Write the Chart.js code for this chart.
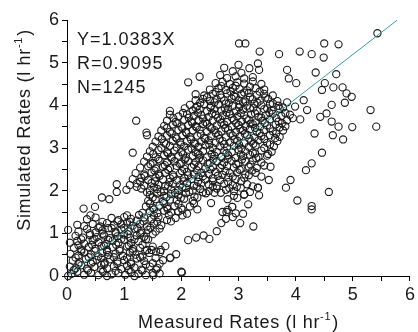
<!DOCTYPE html>
<html><head><meta charset="utf-8">
<script src="https://cdn.jsdelivr.net/npm/chart.js@4/dist/chart.umd.min.js"></script>
<style>html,body{margin:0;padding:0;background:#fff}#wrap{width:418px;height:332px}</style>
</head><body><div id="wrap"><canvas id="c" width="418" height="332"></canvas></div>
<script>
const slope = 1.0383, rValue = '0.9095', nValue = 1245;
const xTicks = [0,1,2,3,4,5,6];
const yTicks = [0,1,2,3,4,5,6];
const xTitle = 'Measured Rates (l hr', yTitle = 'Simulated Rates (l hr', unitSup = '-1';

const lowerCloud = [
[0.08,0.05],[0.18,0.10],[0.30,0.03],[0.42,0.08],[0.55,0.02],[0.63,0.10],[0.78,0.04],[0.90,0.07],[1.02,0.03],[1.12,0.09],[1.25,0.05],[1.38,0.02],[1.51,0.02],[1.62,0.06],[2.01,0.08],[0.02,0.00],[0.70,0.00],[1.18,0.00],[1.50,0.07],[2.00,0.10],
[0.05,0.22],[0.15,0.18],[0.25,0.25],[0.35,0.17],[0.48,0.21],[0.60,0.26],[0.70,0.18],[0.82,0.23],[0.95,0.16],[1.05,0.24],[1.18,0.20],[1.30,0.15],[1.45,0.22],[1.58,0.19],
[0.10,0.36],[0.22,0.32],[0.33,0.40],[0.45,0.33],[0.52,0.38],[0.66,0.31],[0.75,0.39],[0.88,0.34],[1.00,0.37],[1.12,0.32],[1.22,0.41],[1.35,0.35],[1.50,0.30],[1.68,0.37],[1.80,0.42],
[0.06,0.52],[0.20,0.48],[0.30,0.55],[0.42,0.50],[0.55,0.46],[0.62,0.54],[0.72,0.49],[0.85,0.53],[0.98,0.47],[1.10,0.55],[1.20,0.50],[1.32,0.46],[1.44,0.54],[1.63,0.56],[1.91,0.51],[1.81,0.43],
[0.12,0.66],[0.25,0.62],[0.38,0.68],[0.50,0.64],[0.60,0.70],[0.70,0.61],[0.80,0.67],[0.92,0.63],[1.05,0.69],[1.15,0.64],[1.28,0.66],[1.40,0.61],[1.50,0.69],[1.72,0.70],[1.64,0.61],[1.48,0.61],
[0.05,0.78],[0.18,0.82],[0.30,0.76],[0.45,0.84],[0.55,0.79],[0.68,0.75],[0.80,0.83],[0.90,0.78],[1.00,0.85],[1.12,0.77],[1.25,0.81],[1.38,0.86],[2.12,0.84],
[0.15,0.94],[0.28,0.90],[0.40,0.96],[0.52,0.91],[0.65,0.95],[0.75,0.89],[0.88,0.93],[1.00,0.97],[1.10,0.90],[1.22,0.95],[1.35,0.92],[2.26,0.90],[2.39,0.95],
[0.02,1.08],[0.20,1.04],[0.35,1.10],[0.50,1.02],[0.62,1.07],[0.72,1.12],[0.85,1.03],[0.95,1.09],[1.08,1.05],[1.18,1.11],[1.30,1.02],[1.42,1.08],[1.55,1.04],[2.49,0.87],[2.62,1.05],
[0.18,1.20],[0.30,1.17],[0.45,1.22],[0.58,1.16],[0.70,1.24],[0.82,1.19],[0.95,1.21],[1.05,1.25],[1.15,1.18],[1.28,1.22],[1.40,1.16],[1.52,1.23],[1.65,1.19],[2.70,1.24],[3.03,1.24],
[0.35,1.33],[0.50,1.37],[0.78,1.36],[0.90,1.31],[1.00,1.38],[1.12,1.34],[1.22,1.30],[1.35,1.37],[1.48,1.33],[1.60,1.38],[1.75,1.31],[1.90,1.36],[2.78,1.34],[2.90,1.38],[3.26,1.16]
];
const denseLower = [
[0.12,0.14],[0.37,0.13],[0.60,0.15],[0.85,0.12],[1.08,0.14],[1.32,0.13],[1.56,0.15],
[0.20,0.28],[0.42,0.29],[0.65,0.27],[0.88,0.29],[1.12,0.28],[1.38,0.27],[1.62,0.29],
[0.15,0.43],[0.38,0.44],[0.60,0.42],[0.82,0.44],[1.05,0.43],[1.28,0.44],[1.55,0.42],
[0.25,0.58],[0.48,0.59],[0.70,0.57],[0.92,0.59],[1.15,0.58],[1.37,0.59],[1.56,0.57],
[0.20,0.72],[0.44,0.73],[0.65,0.71],[0.86,0.73],[1.08,0.72],[1.32,0.73],
[0.25,0.86],[0.48,0.87],[0.72,0.85],[0.95,0.87],[1.18,0.86],[1.42,0.86],
[0.40,1.00],[0.62,0.99],[0.85,1.00],[1.06,0.98],[1.28,1.00],[1.50,0.98],
[0.55,1.13],[0.78,1.12],[1.00,1.13],[1.23,1.12],[1.46,1.13],[1.62,1.11],
[0.62,1.27],[0.88,1.28],[1.10,1.27],[1.34,1.28],[1.58,1.27],[1.82,1.28],
[1.05,1.42],[1.26,1.43],[1.52,1.42],[1.78,1.43],[2.02,1.42]
];
const middleCloud = [
[0.41,1.42],[1.32,1.48],[1.45,1.52],[1.58,1.47],[1.70,1.53],[1.82,1.49],[1.95,1.51],[2.10,1.46],[2.72,1.50],[2.79,1.50],[2.95,1.47],[3.08,1.46],[2.81,1.55],
[0.29,1.58],[0.49,1.62],[1.38,1.63],[1.50,1.60],[1.62,1.65],[1.75,1.61],[1.88,1.64],[2.00,1.59],[2.15,1.63],[2.52,1.71],[2.89,1.62],[3.17,1.68],[2.28,1.56],
[0.61,1.84],[0.74,1.80],[1.42,1.76],[1.55,1.80],[1.68,1.75],[1.80,1.79],[1.92,1.77],[2.05,1.81],[2.20,1.76],[2.81,1.80],[3.10,1.91],[2.92,1.99],
[0.87,1.97],[1.45,1.90],[1.58,1.93],[1.70,1.88],[1.82,1.92],[1.95,1.89],[2.08,1.94],[2.23,1.86],[2.43,1.94],[2.69,1.95],[2.92,1.88],[3.36,1.89],[3.04,2.07],
[1.04,2.02],[1.30,2.05],[1.45,2.00],[1.58,2.04],[1.70,1.99],[1.82,2.03],[1.95,2.01],[2.08,2.06],[2.20,2.00],[2.33,2.04],[2.48,1.99],[2.62,2.05],[2.78,2.02],[3.34,2.07],[2.84,2.06],
[0.87,2.15],[1.10,2.13],[1.22,2.17],[1.35,2.12],[1.48,2.18],[1.60,2.14],[1.72,2.11],[1.85,2.16],[1.98,2.13],[2.10,2.18],[2.22,2.12],[2.35,2.17],[2.48,2.14],[2.62,2.11],[2.75,2.16],[2.90,2.13],[3.15,2.15],
[1.15,2.27],[1.30,2.30],[1.42,2.25],[1.55,2.31],[1.68,2.26],[1.80,2.29],[1.92,2.24],[2.05,2.30],[2.18,2.27],[2.30,2.32],[2.42,2.26],[2.55,2.29],[2.68,2.25],[2.82,2.31],[2.95,2.27],[3.10,2.30],[3.53,2.25],[3.91,2.25],
[1.20,2.41],[1.35,2.38],[1.48,2.43],[1.60,2.39],[1.72,2.42],[1.85,2.37],[1.98,2.41],[2.10,2.44],[2.22,2.38],[2.35,2.42],[2.48,2.39],[2.60,2.44],[2.72,2.37],[2.85,2.41],[2.98,2.43],[3.12,2.38],[3.30,2.42],
[1.28,2.54],[1.42,2.57],[1.55,2.52],[1.68,2.56],[1.80,2.53],[1.92,2.58],[2.05,2.51],[2.18,2.55],[2.30,2.57],[2.42,2.52],[2.55,2.56],[2.68,2.53],[2.80,2.58],[2.92,2.54],[3.05,2.51],[3.18,2.56],[3.32,2.53],[3.56,2.56],[4.18,2.48],
[1.35,2.68],[1.50,2.65],[1.62,2.70],[1.75,2.66],[1.88,2.69],[2.00,2.64],[2.12,2.70],[2.25,2.67],[2.38,2.71],[2.50,2.65],[2.62,2.69],[2.75,2.66],[2.88,2.70],[3.00,2.64],[3.12,2.68],[3.25,2.71],[3.40,2.66],[4.28,2.64]
];
const denseMiddle = [
[1.52,1.56],[1.76,1.57],[2.02,1.55],
[1.45,1.70],[1.70,1.71],[1.95,1.69],[2.22,1.70],
[1.50,1.84],[1.74,1.85],[1.99,1.83],[2.28,1.84],[2.98,1.83],
[1.40,1.96],[1.64,1.97],[1.89,1.95],[2.14,1.97],[2.38,1.96],[2.58,1.95],[3.20,1.97],
[1.22,2.09],[1.52,2.09],[1.77,2.10],[2.02,2.08],[2.27,2.10],[2.55,2.09],[2.97,2.09],[3.25,2.10],
[1.28,2.21],[1.54,2.22],[1.79,2.20],[2.04,2.22],[2.29,2.21],[2.55,2.22],[2.82,2.20],[3.05,2.22],
[1.36,2.34],[1.62,2.35],[1.86,2.33],[2.12,2.36],[2.38,2.34],[2.64,2.35],[2.90,2.33],[3.18,2.36],[3.40,2.33],
[1.53,2.47],[1.77,2.49],[2.01,2.46],[2.27,2.48],[2.51,2.50],[2.77,2.46],[3.02,2.49],[3.24,2.47],
[1.46,2.62],[1.71,2.60],[1.97,2.63],[2.22,2.61],[2.46,2.63],[2.71,2.60],[2.96,2.62],[3.21,2.61],[3.45,2.59]
];
const upperCloud = [
[1.40,2.80],[1.55,2.78],[1.70,2.83],[1.82,2.79],[1.95,2.82],[2.08,2.77],[2.20,2.81],[2.32,2.84],[2.45,2.78],[2.58,2.82],[2.70,2.79],[2.82,2.83],[2.95,2.77],[3.08,2.81],[3.20,2.84],[3.35,2.78],[3.50,2.82],
[1.15,2.89],[1.45,2.92],[1.60,2.95],[1.75,2.90],[1.88,2.94],[2.00,2.91],[2.12,2.96],[2.25,2.90],[2.38,2.93],[2.50,2.95],[2.62,2.91],[2.75,2.94],[2.88,2.90],[3.00,2.96],[3.12,2.92],[3.25,2.89],[3.40,2.94],[3.58,2.91],[4.46,2.89],
[1.50,3.03],[1.65,3.00],[1.80,3.05],[1.92,3.01],[2.05,3.04],[2.18,2.99],[2.30,3.03],[2.42,3.06],[2.55,3.00],[2.68,3.04],[2.80,3.01],[2.92,3.05],[3.05,2.99],[3.18,3.03],[3.30,3.06],[3.45,3.00],[3.62,3.04],
[1.55,3.15],[1.70,3.12],[1.85,3.17],[1.98,3.13],[2.10,3.16],[2.22,3.11],[2.35,3.15],[2.48,3.18],[2.60,3.12],[2.72,3.16],[2.85,3.13],[2.98,3.17],[3.10,3.11],[3.22,3.15],[3.35,3.18],[3.50,3.12],[3.68,3.16],[4.83,3.20],
[1.40,3.30],[1.60,3.27],[1.75,3.29],[1.90,3.25],[2.02,3.30],[2.15,3.26],[2.28,3.29],[2.40,3.24],[2.52,3.28],[2.65,3.31],[2.78,3.25],[2.90,3.29],[3.02,3.27],[3.15,3.31],[3.28,3.25],[3.40,3.28],[3.55,3.30],[3.72,3.26],[4.33,3.34],[4.65,3.30],
[1.39,3.36],[1.65,3.41],[1.80,3.38],[1.95,3.42],[2.08,3.37],[2.20,3.41],[2.32,3.43],[2.45,3.38],[2.58,3.42],[2.70,3.39],[2.82,3.43],[2.95,3.37],[3.08,3.41],[3.20,3.44],[3.32,3.38],[3.45,3.42],[3.60,3.39],[3.78,3.41],
[1.70,3.52],[1.85,3.55],[2.00,3.50],[2.12,3.54],[2.25,3.51],[2.38,3.56],[2.50,3.49],[2.62,3.53],[2.75,3.55],[2.88,3.50],[3.00,3.54],[3.12,3.51],[3.25,3.56],[3.38,3.50],[3.50,3.53],[3.65,3.55],[3.82,3.51],[4.99,3.49],[5.41,3.50],[4.75,3.50],
[1.21,3.64],[1.75,3.64],[1.90,3.61],[2.05,3.66],[2.18,3.62],[2.30,3.65],[2.42,3.60],[2.55,3.64],[2.68,3.67],[2.80,3.61],[2.92,3.65],[3.05,3.62],[3.18,3.66],[3.30,3.60],[3.42,3.64],[3.55,3.67],[3.70,3.62],[3.85,3.65],[4.08,3.67],[4.63,3.62],
[1.80,3.78],[1.95,3.74],[2.10,3.79],[2.22,3.75],[2.35,3.77],[2.48,3.73],[2.60,3.78],[2.72,3.76],[2.85,3.80],[2.98,3.74],[3.10,3.77],[3.22,3.79],[3.35,3.73],[3.48,3.77],[3.60,3.80],[3.75,3.75],[3.90,3.78],[4.43,3.73],[4.54,3.81],
[1.80,3.87],[2.06,3.93],[2.20,3.88],[2.32,3.90],[2.45,3.86],[2.58,3.91],[2.70,3.88],[2.82,3.92],[2.95,3.86],[3.08,3.90],[3.20,3.93],[3.32,3.87],[3.45,3.91],[3.58,3.88],[3.72,3.92],[4.20,3.89],[5.31,3.89],
[2.15,4.01],[2.28,3.98],[2.40,4.03],[2.52,3.99],[2.65,4.02],[2.78,4.04],[2.90,3.98],[3.02,4.02],[3.15,3.99],[3.28,4.04],[3.40,4.00],[3.55,4.03],[3.70,3.99],[3.99,3.97],[4.63,4.01],
[2.25,4.12],[2.38,4.15],[2.50,4.10],[2.62,4.14],[2.75,4.11],[2.88,4.16],[3.00,4.12],[3.12,4.09],[3.25,4.14],[3.38,4.11],[3.52,4.15],[3.68,4.10],[4.14,4.12],[4.86,4.06],
[2.25,4.26],[2.40,4.23],[2.55,4.27],[2.68,4.24],[2.80,4.28],[2.92,4.22],[3.05,4.26],[3.18,4.29],[3.32,4.24],[3.45,4.27],[3.60,4.23],[4.98,4.20],
[2.50,4.37],[2.65,4.40],[2.78,4.36],[2.90,4.41],[3.02,4.38],[3.15,4.35],[3.30,4.40],[3.45,4.37],[4.46,4.36],[4.66,4.42],[4.82,4.42],[4.89,4.28],
[2.12,4.54],[2.60,4.52],[2.72,4.55],[2.85,4.50],[2.98,4.54],[3.10,4.51],[3.25,4.56],[3.40,4.50],[4.01,4.52],[4.51,4.52],
[2.32,4.67],[2.68,4.71],[2.80,4.64],[2.95,4.68],[3.10,4.63],[3.25,4.66],[3.88,4.63],
[2.75,4.88],[2.90,4.80],[3.05,4.76],[3.19,4.87],[3.36,4.83],[3.85,4.83],[4.35,4.77],[4.71,4.73],[3.34,4.98],[3.00,4.95]
];
const denseUpper = [
[1.60,2.74],[1.83,2.75],[2.06,2.73],[2.31,2.76],[2.56,2.74],[2.81,2.75],[3.06,2.73],[3.31,2.76],
[1.51,2.86],[1.77,2.87],[2.03,2.85],[2.29,2.87],[2.53,2.86],[2.79,2.88],[3.04,2.85],[3.29,2.87],[3.52,2.86],
[1.73,3.09],[1.99,3.08],[2.24,3.10],[2.49,3.08],[2.75,3.09],[3.01,3.08],[3.26,3.10],[3.55,3.08],
[1.66,3.21],[1.92,3.22],[2.17,3.20],[2.42,3.22],[2.67,3.21],[2.93,3.20],[3.19,3.22],[3.45,3.21],[3.64,3.23],
[1.83,3.34],[2.09,3.35],[2.34,3.33],[2.60,3.35],[2.86,3.34],[3.11,3.33],[3.37,3.35],[3.66,3.34],
[1.75,3.47],[2.02,3.46],[2.27,3.48],[2.53,3.46],[2.77,3.47],[3.03,3.45],[3.29,3.47],[3.55,3.46],[3.72,3.48],
[1.93,3.58],[2.19,3.59],[2.45,3.57],[2.70,3.59],[2.96,3.58],[3.21,3.57],[3.46,3.59],[3.76,3.58],
[1.86,3.70],[2.13,3.71],[2.38,3.69],[2.64,3.71],[2.89,3.70],[3.14,3.69],[3.40,3.71],[3.66,3.70],[3.95,3.70],
[2.03,3.82],[2.29,3.83],[2.54,3.81],[2.79,3.83],[3.04,3.82],[3.29,3.81],[3.54,3.83],[3.82,3.82],
[2.25,3.94],[2.51,3.95],[2.76,3.93],[3.01,3.95],[3.26,3.94],[3.50,3.93],[3.78,3.95],
[2.33,4.06],[2.58,4.07],[2.83,4.05],[3.08,4.07],[3.33,4.06],[3.60,4.05],[3.85,4.07],
[2.45,4.19],[2.70,4.18],[2.95,4.20],[3.20,4.19],[3.47,4.18],
[2.60,4.31],[2.86,4.32],[3.10,4.30],[3.37,4.32],
[2.70,4.45],[2.95,4.46],[3.20,4.44]
];
const outliers = [
[3.01,5.45],[3.12,5.45],[3.37,5.26],[3.71,5.20],[4.07,5.26],[4.28,5.20],[4.50,5.45],[4.75,5.43],[4.49,5.12],[5.43,5.69],
[3.83,2.07],[4.58,1.97],[4.03,1.77],[4.28,1.64],[4.28,1.56],[3.34,2.07],[2.89,1.62],[3.10,1.91]
];

const points = [...lowerCloud, ...denseLower, ...middleCloud, ...denseMiddle, ...upperCloud, ...denseUpper, ...outliers]
  .map(([x, y]) => ({x, y}));
const fitLine = [{x: 0, y: 0}, {x: 6 / slope, y: 6}];

const FONT = "'Liberation Sans', Arial, sans-serif";

const textPlugin = {
  id: 'texts',
  afterDraw(chart) {
    const ctx = chart.ctx, ca = chart.chartArea;
    ctx.save();
    ctx.fillStyle = '#1a1a1a';
    ctx.textBaseline = 'alphabetic';
    ctx.textAlign = 'left';
    ctx.font = '18px ' + FONT;
    ctx.letterSpacing = '1px';
    ctx.fillText('Y=' + slope.toFixed(4) + 'X', 77, 44.5);
    ctx.fillText('R=' + rValue, 77, 68.5);
    ctx.fillText('N=' + nValue, 77, 92.5);
    ctx.letterSpacing = '0.7px';

    function drawTitle(main, cx, cy) {
      ctx.font = '18px ' + FONT;
      const w1 = ctx.measureText(main).width;
      ctx.font = '11px ' + FONT;
      const w2 = ctx.measureText(unitSup).width;
      ctx.font = '18px ' + FONT;
      const w3 = ctx.measureText(')').width;
      const total = w1 + w2 + 1 + w3;
      let x = cx - total / 2;
      ctx.fillText(main, x, cy); x += w1;
      ctx.font = '11px ' + FONT;
      ctx.fillText(unitSup, x, cy - 8); x += w2 + 1;
      ctx.font = '18px ' + FONT;
      ctx.fillText(')', x, cy);
    }
    drawTitle(xTitle, (ca.left + ca.right) / 2, 328);
    ctx.save();
    ctx.translate(30, 130);
    ctx.rotate(-Math.PI / 2);
    drawTitle(yTitle, 0, 0);
    ctx.restore();
    ctx.restore();
  }
};

function axisCfg(ticks, fit) {
  return {
    type: 'linear', min: ticks[0], max: ticks[ticks.length - 1],
    ticks: {
      stepSize: 0.5, autoSkip: false, maxRotation: 0,
      callback: v => ticks.includes(v) ? String(v) : '',
      font: {family: FONT, size: 18}, color: '#1a1a1a', padding: 3
    },
    grid: {drawOnChartArea: false, drawTicks: true, tickLength: 5, color: '#000', lineWidth: 1},
    border: {display: true, color: '#000', width: 1},
    afterFit: fit
  };
}

new Chart(document.getElementById('c'), {
  data: {
    datasets: [
      {type: 'line', data: fitLine, borderColor: '#3a9c9c', borderWidth: 1, pointRadius: 0, fill: false, tension: 0},
      {type: 'scatter', data: points, pointRadius: 3.6, pointBorderWidth: 1.1,
       borderColor: '#1c1c1c', backgroundColor: 'rgba(255,255,255,0)', clip: false}
    ]
  },
  options: {
    responsive: false, animation: false, devicePixelRatio: 1,
    layout: {padding: {left: 0, right: 6, top: 20, bottom: 0}},
    plugins: {legend: {display: false}, tooltip: {enabled: false}},
    scales: {
      x: axisCfg(xTicks, s => { s.height = 56; }),
      y: axisCfg(yTicks, s => { s.width = 67; })
    }
  },
  plugins: [textPlugin]
});
</script></body></html>
